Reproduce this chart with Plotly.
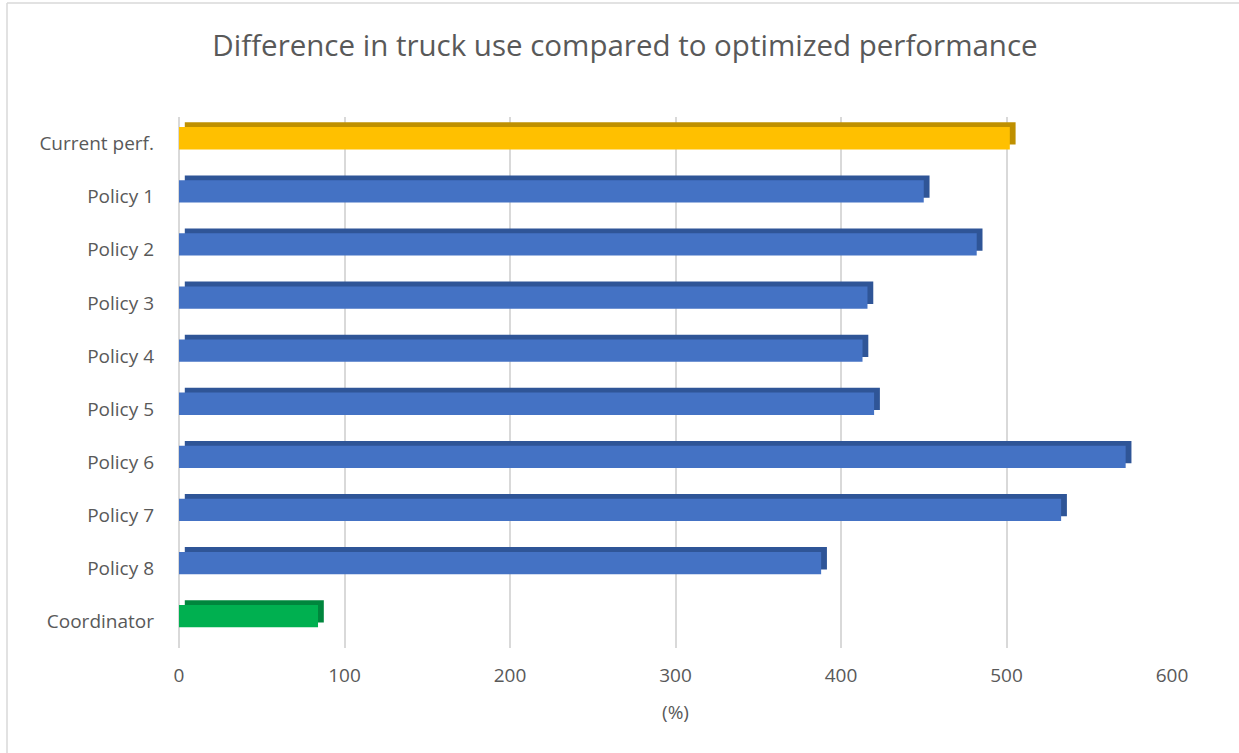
import plotly.graph_objects as go

categories = ["Current perf.", "Policy 1", "Policy 2", "Policy 3", "Policy 4",
              "Policy 5", "Policy 6", "Policy 7", "Policy 8", "Coordinator"]
values = [502, 450, 482, 416, 413, 420, 572, 533, 388, 84]
front_colors = ["#FFC000"] + ["#4472C4"] * 8 + ["#00B050"]
edge_colors = ["#BF9000"] + ["#2F5597"] * 8 + ["#00863D"]
x_ticks = [0, 100, 200, 300, 400, 500, 600]

W, H = 1239, 753
ML, MR, MT, MB = 179, 67, 117, 105
depth_x = 3.5   # horizontal shift of the bar's back face (axis units)

fig = go.Figure()
# back (darker) face to suggest the 3D top edge and side
fig.add_trace(go.Bar(
    y=categories, x=values, base=[depth_x] * len(values), orientation="h",
    marker=dict(color=edge_colors, line=dict(width=0)),
    width=0.42, offset=-0.40, hoverinfo="skip", showlegend=False,
))
# front face
fig.add_trace(go.Bar(
    y=categories, x=values, orientation="h",
    marker=dict(color=front_colors, line=dict(width=0)),
    width=0.42, offset=-0.31, showlegend=False,
))

pw, ph = W - ML - MR, H - MT - MB
bx = (7 - ML) / pw          # left chart border
by = (H - MB - 3) / ph      # top chart border
fig.update_layout(
    width=W, height=H,
    barmode="overlay",
    paper_bgcolor="white", plot_bgcolor="white",
    margin=dict(l=ML, r=MR, t=MT, b=MB),
    font=dict(family="Open Sans, Noto Sans, sans-serif", color="#595959", size=19),
    title=dict(text="Difference in truck use compared to optimized performance",
               x=625 / W, xref="container", xanchor="center",
               y=1 - 46 / H, yref="container", yanchor="middle",
               font=dict(size=29.5, color="#595959")),
    xaxis=dict(range=[0, 600], tickvals=x_ticks, showgrid=True, gridcolor="#D9D9D9",
               gridwidth=1.5, zeroline=True, zerolinecolor="#D9D9D9", zerolinewidth=1.5,
               showline=False, ticks="", ticklabelstandoff=14,
               title=dict(text="(%)", standoff=18, font=dict(size=19, color="#595959")),
               tickfont=dict(size=19, color="#595959")),
    yaxis=dict(autorange="reversed", showgrid=False, zeroline=False, showline=False,
               ticks="", ticklabelstandoff=24,
               tickfont=dict(size=19, color="#595959")),
    shapes=[
        dict(type="line", xref="paper", yref="paper", x0=bx, x1=2.0, y0=by, y1=by,
             line=dict(color="#D9D9D9", width=1.5), layer="below"),
        dict(type="line", xref="paper", yref="paper", x0=bx, x1=bx, y0=by, y1=-1.0,
             line=dict(color="#D9D9D9", width=1.5), layer="below"),
    ],
)

fig.write_html("out.html", config={"displayModeBar": False},
               post_script="document.body.style.margin='0';document.body.style.overflow='hidden';")
